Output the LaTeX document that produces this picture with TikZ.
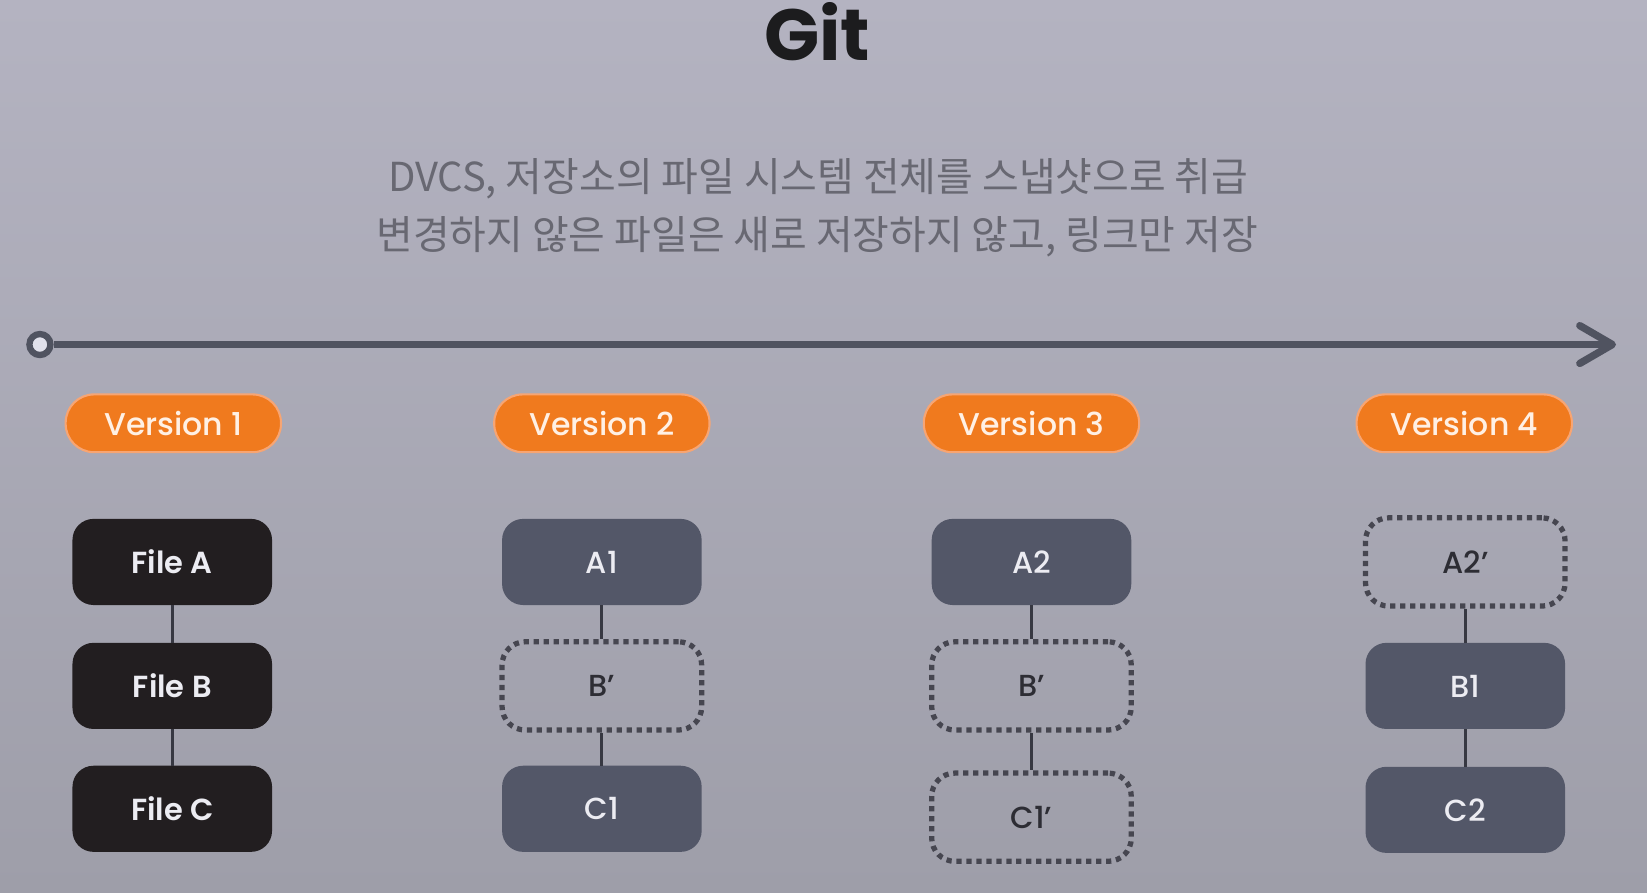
\documentclass[tikz,border=0pt]{standalone}
\usepackage{fontspec}
\setmainfont{Poppins}
\newfontfamily\pmed{Poppins}[UprightFont={* Medium}, BoldFont={* SemiBold}]
\newfontfamily\kr{Noto Sans CJK KR}
\definecolor{bgtop}{RGB}{180,179,193}
\definecolor{bgmid}{RGB}{212,212,224}
\definecolor{bgbot}{RGB}{158,158,169}
\definecolor{ringfill}{RGB}{225,225,235}
\definecolor{axis}{RGB}{80,83,96}
\definecolor{vorange}{RGB}{240,122,30}
\definecolor{vborder}{RGB}{247,165,115}
\definecolor{vtext}{RGB}{255,240,228}
\definecolor{filedark}{RGB}{34,30,32}
\definecolor{slate}{RGB}{83,87,104}
\definecolor{boxtext}{RGB}{236,236,242}
\definecolor{dotcol}{RGB}{70,70,80}
\definecolor{dottext}{RGB}{45,45,52}
\definecolor{linkcol}{RGB}{55,56,66}
\definecolor{subtext}{RGB}{104,104,114}
\definecolor{titletext}{RGB}{28,28,30}
\begin{document}
\begin{tikzpicture}[x=1pt,y=-1pt,
  pill/.style={rounded corners=27pt, fill=vorange, draw=vborder, line width=2pt,
    minimum width=205pt, minimum height=55pt, inner sep=0pt, text=vtext,
    font=\pmed\fontsize{30}{30}\selectfont},
  boxbase/.style={rounded corners=20pt, minimum width=190pt, minimum height=82pt,
    inner sep=0pt, font=\pmed\fontsize{29}{29}\selectfont},
  darkbox/.style={boxbase, fill=filedark, text=boxtext, font=\pmed\bfseries\fontsize{29}{29}\selectfont},
  slatebox/.style={boxbase, fill=slate, text=boxtext},
  dotbox/.style={boxbase, draw=dotcol, line width=5pt, dash pattern=on 5pt off 4.5pt,
    rounded corners=22pt, text=dottext, minimum height=84pt},
  link/.style={draw=linkcol, line width=3pt},
  axisline/.style={draw=axis, line width=7pt, line cap=round, line join=round},
  subline/.style={text=subtext, font=\kr\fontsize{38}{38}\selectfont}
]
\useasboundingbox (0,0) rectangle (1568,850);
\shade[top color=bgtop, middle color=bgmid, bottom color=bgbot] (0,0) rectangle (1568,850);

% title and subtitle
\node[anchor=base, text=titletext, font=\bfseries\fontsize{69}{69}\selectfont] (title) at (778,58) {Git};
\node[subline] (sub1) at (779,170) {DVCS, 저장소의 파일 시스템 전체를 스냅샷으로 취급};
\node[subline] (sub2) at (778,225) {변경하지 않은 파일은 새로 저장하지 않고, 링크만 저장};

% timeline
\node[circle, draw=axis, line width=6pt, fill=ringfill, minimum size=20pt, inner sep=0pt] (origin) at (38,328) {};
\coordinate (tip) at (1535,328);
\draw[axisline, line cap=butt] (origin.east) -- (tip);
\draw[axisline] ([shift={(-31,-18)}]tip) -- (tip) -- ([shift={(-31,18)}]tip);

% versions
\node[pill] (v1) at (165,403) {Version 1};
\node[pill] (v2) at (573,403) {Version 2};
\node[pill] (v3) at (982,403) {Version 3};
\node[pill] (v4) at (1394,403) {Version 4};

% version 1
\node[darkbox] (fa) at (164,535) {File A};
\node[darkbox] (fb) at (164,653) {File B};
\node[darkbox] (fc) at (164,770) {File C};
\draw[link] (fa.south) -- (fb.north);
\draw[link] (fb.south) -- (fc.north);

% version 2
\node[slatebox] (a1) at (573,535) {A1};
\node[dotbox] (b2) at (573,653) {B’};
\node[slatebox] (c1) at (573,770) {C1};
\draw[link] (a1.south) -- (b2.north);
\draw[link] (b2.south) -- (c1.north);

% version 3
\node[slatebox] (a2) at (982,535) {A2};
\node[dotbox] (b3) at (982,653) {B’};
\node[dotbox] (c3) at (982,778) {C1’};
\draw[link] (a2.south) -- (b3.north);
\draw[link] (b3.south) -- (c3.north);

% version 4
\node[dotbox] (a4) at (1395,535) {A2’};
\node[slatebox] (b4) at (1395,653) {B1};
\node[slatebox] (c4) at (1395,771) {C2};
\draw[link] (a4.south) -- (b4.north);
\draw[link] (b4.south) -- (c4.north);
\end{tikzpicture}
\end{document}
